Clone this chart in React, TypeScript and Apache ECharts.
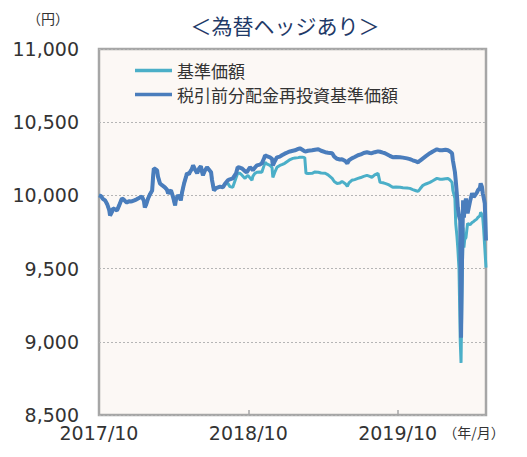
import React, { useEffect, useRef } from "react";
import * as echarts from "echarts";

const dates = [
  "2017-10-01","2017-10-06","2017-10-11","2017-10-16","2017-10-21","2017-10-26","2017-10-28","2017-11-02","2017-11-04","2017-11-09",
  "2017-11-14","2017-11-19","2017-11-24","2017-11-26","2017-12-01","2017-12-06","2017-12-08","2017-12-13","2017-12-18","2017-12-20",
  "2017-12-25","2018-01-01","2018-01-09","2018-01-14","2018-01-19","2018-01-21","2018-01-24","2018-01-29","2018-02-03","2018-02-08",
  "2018-02-10","2018-02-12","2018-02-15","2018-02-20","2018-02-22","2018-02-27","2018-03-04","2018-03-11","2018-03-16","2018-03-19",
  "2018-03-24","2018-03-26","2018-03-31","2018-04-05","2018-04-07","2018-04-12","2018-04-17","2018-04-19","2018-04-22","2018-04-27",
  "2018-05-02","2018-05-04","2018-05-09","2018-05-11","2018-05-16","2018-05-19","2018-05-24","2018-05-29","2018-06-03","2018-06-07",
  "2018-06-10","2018-06-12","2018-06-17","2018-06-22","2018-06-27","2018-07-02","2018-07-04","2018-07-09","2018-07-14","2018-07-19",
  "2018-07-24","2018-07-31","2018-08-05","2018-08-12","2018-08-17","2018-08-24","2018-09-01","2018-09-05","2018-09-10","2018-09-15",
  "2018-09-23","2018-09-27","2018-09-30","2018-10-05","2018-10-10","2018-10-12","2018-10-17","2018-10-22","2018-10-29","2018-11-03",
  "2018-11-08","2018-11-11","2018-11-15","2018-11-23","2018-11-28","2018-11-30","2018-12-05","2018-12-10","2018-12-17","2018-12-22",
  "2018-12-29","2019-01-06","2019-01-11","2019-01-18","2019-01-23","2019-01-31","2019-02-04","2019-02-11","2019-02-16","2019-02-19",
  "2019-02-24","2019-03-06","2019-03-13","2019-03-21","2019-03-28","2019-04-07","2019-04-14","2019-04-24","2019-04-29","2019-05-06",
  "2019-05-13","2019-05-18","2019-05-26","2019-05-31","2019-06-04","2019-06-11","2019-06-18","2019-06-26","2019-07-03","2019-07-10",
  "2019-07-18","2019-07-25","2019-07-30","2019-08-06","2019-08-14","2019-08-19","2019-08-26","2019-08-31","2019-09-07","2019-09-12",
  "2019-09-19","2019-09-27","2019-10-07","2019-10-14","2019-10-24","2019-10-31","2019-11-07","2019-11-15","2019-11-20","2019-11-25",
  "2019-12-02","2019-12-09","2019-12-19","2019-12-26","2020-01-05","2020-01-13","2020-01-18","2020-01-26","2020-02-01","2020-02-06",
  "2020-02-11","2020-02-13","2020-02-18","2020-02-20","2020-02-23","2020-02-25","2020-02-28","2020-03-02","2020-03-04","2020-03-06",
  "2020-03-09","2020-03-11","2020-03-13","2020-03-16","2020-03-18","2020-03-20","2020-03-26","2020-03-31","2020-04-04","2020-04-07",
  "2020-04-12","2020-04-14","2020-04-19","2020-04-21","2020-04-24","2020-04-26","2020-04-28","2020-05-01","2020-05-04",
];

// 税引前分配金再投資基準価額
const reinvestNav = [
  10000,9995,9975,9966,9940,9900,9863,9890,9911,9905,
  9897,9930,9965,9979,9970,9955,9952,9960,9958,9959,
  9965,9973,9985,9993,9960,9918,9935,9979,10010,10034,
  10120,10185,10180,10171,10130,10082,10070,10055,10040,10014,
  10030,10034,9990,9932,9970,10000,9985,9966,10020,10082,
  10130,10151,10145,10158,10180,10205,10175,10151,10185,10199,
  10160,10137,10170,10192,10175,10158,10110,10034,10050,10055,
  10060,10055,10080,10103,10110,10116,10150,10192,10190,10185,
  10165,10158,10170,10192,10180,10171,10190,10205,10210,10219,
  10250,10274,10268,10260,10250,10205,10235,10260,10265,10274,
  10285,10295,10300,10305,10308,10318,10322,10310,10301,10300,
  10305,10308,10312,10315,10305,10295,10292,10288,10265,10250,
  10245,10247,10235,10219,10240,10253,10262,10274,10280,10290,
  10295,10290,10288,10295,10301,10298,10292,10288,10278,10270,
  10260,10262,10260,10258,10253,10248,10240,10232,10226,10238,
  10253,10268,10288,10300,10315,10308,10308,10312,10308,10300,
  10288,10240,10160,10103,10000,9918,9860,9829,9027,9500,
  9966,9849,9930,9979,9920,9877,9960,10014,9990,10000,
  10020,10034,10050,10082,10060,10014,9990,9945,9692,
];

// 基準価額
const nav = [
  10000,9995,9975,9966,9940,9900,9863,9890,9911,9905,
  9897,9930,9965,9979,9970,9955,9952,9960,9958,9959,
  9965,9973,9985,9993,9960,9918,9935,9979,10010,10034,
  10120,10185,10180,10171,10130,10082,10070,10055,10040,10014,
  10030,10034,9990,9932,9970,10000,9985,9966,10020,10082,
  10130,10151,10145,10158,10180,10205,10175,10151,10185,10199,
  10160,10137,10170,10192,10175,10158,10110,10034,10050,10055,
  10060,10055,10080,10082,10060,10055,10120,10151,10151,10140,
  10116,10130,10137,10120,10103,10130,10150,10158,10160,10158,
  10200,10226,10215,10205,10190,10123,10160,10192,10205,10210,
  10219,10235,10245,10253,10255,10258,10260,10260,10258,10151,
  10150,10151,10160,10158,10153,10151,10140,10116,10095,10082,
  10085,10096,10080,10062,10085,10103,10108,10116,10122,10130,
  10137,10130,10123,10140,10151,10089,10086,10082,10075,10068,
  10055,10058,10055,10052,10050,10048,10040,10032,10027,10045,
  10069,10078,10089,10100,10116,10110,10110,10114,10116,10105,
  10089,10034,9980,9808,9720,9644,9500,9007,8856,9300,
  9781,9644,9700,9712,9760,9808,9800,9815,9822,9829,
  9840,9849,9860,9884,9870,9849,9780,9644,9507,
];

const yMin = 8500;
const yMax = 11000;
const yStep = 500;
const xStart = "2017-10-01";
const xEnd = "2020-05-04";

const legendNames = ["基準価額", "税引前分配金再投資基準価額"];
const titleText = "＜為替ヘッジあり＞";
const yUnit = "（円）";
const xUnit = "（年/月）";

const NUM_FONT = "'DejaVu Sans', Verdana, sans-serif";
const JP_FONT = "'Noto Sans CJK JP', 'Noto Sans', sans-serif";

export default function App() {
  const ref = useRef<HTMLDivElement>(null);

  useEffect(() => {
    document.body.style.margin = "0";
    const chart = echarts.init(ref.current!, undefined, { renderer: "svg" });
    const ts = (d: string) => Date.parse(d + "T00:00:00Z");
    const dayMs = 86400000;
    const navData = dates.map((d, i) => [ts(d), nav[i]]);
    const reData = dates.map((d, i) => [ts(d), reinvestNav[i]]);

    chart.setOption({
      animation: false,
      backgroundColor: "#ffffff",
      grid: {
        left: 99,
        top: 49,
        right: 41,
        bottom: 42,
        show: true,
        backgroundColor: "#FCF8F5",
        borderColor: "#A6A6A6",
        borderWidth: 2.5,
      },
      legend: {
        orient: "vertical",
        left: 130,
        top: 57,
        icon: "rect",
        itemWidth: 37,
        itemHeight: 3.5,
        itemGap: 7,
        data: legendNames,
        textStyle: {
          fontFamily: JP_FONT,
          fontSize: 17,
          lineHeight: 17,
          color: "#333333",
          padding: [0, 0, 0, 0],
        },
      },
      xAxis: {
        type: "value",
        min: ts(xStart),
        max: ts(xEnd),
        interval: 365 * dayMs,
        axisLine: { show: false },
        axisTick: {
          show: true,
          inside: true,
          length: 5,
          lineStyle: { color: "#A6A6A6", width: 1.5 },
        },
        splitLine: { show: false },
        axisLabel: {
          showMaxLabel: false,
          margin: 8,
          fontFamily: NUM_FONT,
          fontSize: 19,
          color: "#333333",
          formatter: (v: number) => {
            const d = new Date(v);
            return `${d.getUTCFullYear()}/${d.getUTCMonth() + 1}`;
          },
        },
      },
      yAxis: {
        type: "value",
        min: yMin,
        max: yMax,
        interval: yStep,
        axisLine: { show: false },
        axisTick: { show: false },
        splitLine: {
          show: true,
          lineStyle: { color: "#B5B5B5", width: 1, type: [2, 2] },
        },
        axisLabel: {
          margin: 20,
          fontFamily: NUM_FONT,
          fontSize: 19,
          color: "#333333",
          formatter: (v: number) => v.toLocaleString("en-US"),
        },
      },
      series: [
        {
          name: legendNames[0],
          type: "line",
          data: navData,
          showSymbol: false,
          color: "#4BAFC8",
          lineStyle: { color: "#4BAFC8", width: 3 },
        },
        {
          name: legendNames[1],
          type: "line",
          data: reData,
          showSymbol: false,
          color: "#4A7DBC",
          lineStyle: { color: "#4A7DBC", width: 4 },
        },
      ],
      graphic: [
        {
          type: "text",
          x: 285,
          y: 25,
          style: {
            text: titleText,
            fontFamily: JP_FONT,
            fontSize: 21,
            fill: "#1F3A68",
            textAlign: "center",
            textVerticalAlign: "middle",
          },
        },
        {
          type: "text",
          x: 48,
          y: 18,
          style: {
            text: yUnit,
            fontFamily: JP_FONT,
            fontSize: 14,
            fill: "#333333",
            textAlign: "center",
            textVerticalAlign: "middle",
          },
        },
        {
          type: "text",
          x: 474,
          y: 432,
          style: {
            text: xUnit,
            fontFamily: JP_FONT,
            fontSize: 14,
            fill: "#333333",
            textAlign: "center",
            textVerticalAlign: "middle",
          },
        },
      ],
    });
    return () => chart.dispose();
  }, []);

  return <div ref={ref} style={{ width: 527, height: 457 }} />;
}
